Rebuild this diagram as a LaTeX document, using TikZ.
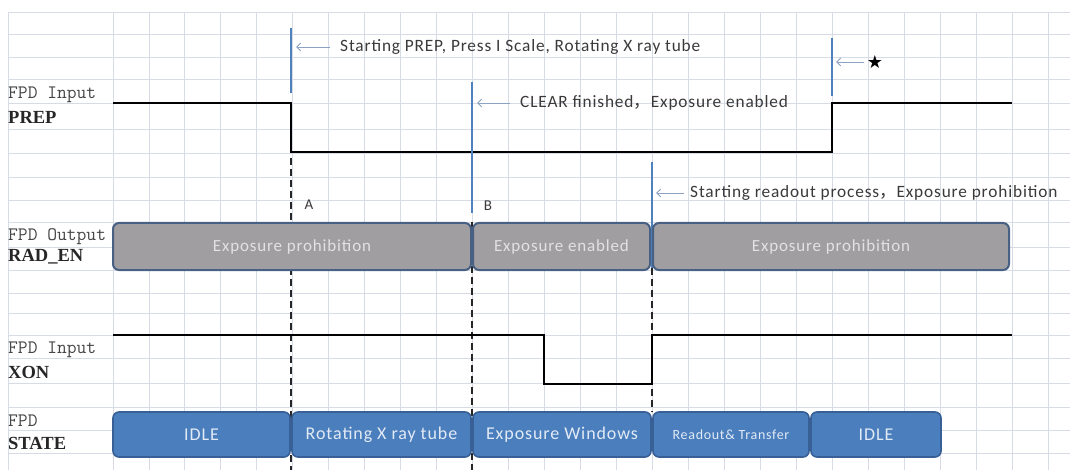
\documentclass[tikz,border=0pt]{standalone}
\usepackage{fontspec}
\setmainfont{Carlito}[LetterSpace=5.0]
\newfontfamily\namefont{Liberation Serif}
\newfontfamily\cjk{Noto Sans CJK SC}
\newfontfamily\symfont{DejaVu Sans}
\usetikzlibrary{arrows.meta}
\definecolor{gridc}{RGB}{214,219,229}
\definecolor{boxgray}{RGB}{160,158,160}
\definecolor{boxedge}{RGB}{72,96,132}
\definecolor{stateblue}{RGB}{74,126,189}
\definecolor{stateedge}{RGB}{56,96,150}
\definecolor{markblue}{RGB}{79,129,189}
\definecolor{notearrowc}{RGB}{140,162,195}
\definecolor{notetext}{RGB}{58,58,58}
\definecolor{labtext}{RGB}{70,70,70}
\definecolor{boxtext}{RGB}{226,226,226}
\definecolor{statetext}{RGB}{226,234,245}
\begin{document}
\begin{tikzpicture}[x=1pt,y=-1pt,
  gridline/.style={draw=gridc,line width=0.9pt},
  signal/.style={draw=black,line width=2.4pt,line join=miter},
  marker/.style={draw=markblue,line width=2pt},
  guide/.style={draw=black!85,line width=2pt,dash pattern=on 7pt off 4pt},
  notearrow/.style={draw=notearrowc,line width=0.9pt,-{Straight Barb[length=4pt,width=8pt]}},
  note/.style={text=notetext,font=\fontsize{17.3}{19}\selectfont,inner sep=0pt,anchor=west},
  tag/.style={text=notetext,font=\fontsize{15}{17}\selectfont,inner sep=0pt},
  lab/.style={text=labtext,font=\ttfamily\fontsize{19}{21}\selectfont,inner sep=0pt,anchor=west},
  signame/.style={text=black!85,font=\namefont\bfseries\fontsize{18.5}{20}\selectfont,inner sep=0pt,anchor=west},
  radbox/.style={draw=boxedge,fill=boxgray,line width=2pt,rounded corners=6pt,
    text=boxtext,font=\fontsize{17}{19}\selectfont,minimum height=47pt,inner sep=0pt},
  statebox/.style={draw=stateedge,fill=stateblue,line width=1.6pt,rounded corners=6pt,
    text=statetext,font=\fontsize{18}{20}\selectfont,minimum height=45pt,inner sep=0pt}
]
\useasboundingbox (0,0) rectangle (1070,470);
\fill[white] (0,0) rectangle (1070,470);

% background grid
\foreach \gy in {12,34,57,79,103,129,153,177,200,222,247,270,293,313,335,358,383,407,430,453}
  \draw[gridline] (8,\gy) -- (1070,\gy);
\draw[gridline] (8,12) -- (8,470);
\foreach \k in {0,...,26}
  \draw[gridline] ({113+35.96*\k},12) -- ({113+35.96*\k},470);

% row labels
\node[lab] (lprep) at (8,95) {FPD Input};
\node[signame] (nprep) at (8,117) {PREP};
\node[lab] (lrad) at (8,237) {FPD Output};
\node[signame] (nrad) at (8,257) {RAD\_EN};
\node[lab] (lxon) at (8,350) {FPD Input};
\node[signame] (nxon) at (8,372) {XON};
\node[lab] (lstate) at (8,421) {FPD};
\node[signame] (nstate) at (8,443) {STATE};

% dashed time guides
\coordinate (g1t) at (291,158); \coordinate (g1b) at (291,470);
\coordinate (g2t) at (472,222); \coordinate (g2b) at (472,470);
\coordinate (g3t) at (652,268); \coordinate (g3b) at (652,412);
\draw[guide] (g1t) -- (g1b);
\draw[guide] (g2t) -- (g2b);
\draw[guide] (g3t) -- (g3b);

% PREP waveform
\coordinate (p0) at (113,103); \coordinate (p1) at (291,103);
\coordinate (p2) at (291,152); \coordinate (p3) at (832,152);
\coordinate (p4) at (832,103); \coordinate (p5) at (1012,103);
\draw[signal] (p0) -- (p1) -- (p2) -- (p3) -- (p4) -- (p5);

% XON waveform
\coordinate (x0) at (113,335); \coordinate (x1) at (544,335);
\coordinate (x2) at (544,384); \coordinate (x3) at (652,384);
\coordinate (x4) at (652,335); \coordinate (x5) at (1012,335);
\draw[signal] (x0) -- (x1) -- (x2) -- (x3) -- (x4) -- (x5);

% event markers
\coordinate (m1t) at (291,28);  \coordinate (m1b) at (291,93);
\coordinate (m2t) at (472,82);  \coordinate (m2b) at (472,213);
\coordinate (m3t) at (652,162); \coordinate (m3b) at (652,268);
\coordinate (m4t) at (832,38);  \coordinate (m4b) at (832,96);
\draw[marker] (m1t) -- (m1b);
\draw[marker] (m2t) -- (m2b);
\draw[marker] (m3t) -- (m3b);
\draw[marker] (m4t) -- (m4b);

% RAD_EN phases
\node[radbox,minimum width=358pt] (rad1) at (292,246.5) {Exposure prohibition};
\node[radbox,minimum width=177pt] (rad2) at (561.5,246.5) {Exposure enabled};
\node[radbox,minimum width=356pt] (rad3) at (831,246.5) {Exposure prohibition};

% detector states
\node[statebox,minimum width=177pt] (st1) at (201.5,434.5) {IDLE};
\node[statebox,minimum width=179pt] (st2) at (381.5,434.5) {Rotating X ray tube};
\node[statebox,minimum width=178pt] (st3) at (562,434.5) {Exposure Windows};
\node[statebox,minimum width=156pt,font=\fontsize{14}{16}\selectfont] (st4) at (731,434.5) {Readout\& Transfer};
\node[statebox,minimum width=130pt] (st5) at (876,434.5) {IDLE};

% annotations
\node[note] (n1) at (340,47) {Starting PREP, Press I Scale, Rotating X ray tube};
\coordinate (a1) at (296,47);
\draw[notearrow] ([xshift=-10pt]n1.west) -- (a1);

\node[note] (n2) at (520,103) {CLEAR finished{\cjk ，}Exposure enabled};
\coordinate (a2) at (477,103);
\draw[notearrow] ([xshift=-10pt]n2.west) -- (a2);

\node[note] (n3) at (690,193) {Starting readout process{\cjk ，}Exposure prohibition};
\coordinate (a3) at (656,193);
\draw[notearrow] ([xshift=-6pt]n3.west) -- (a3);

\node[inner sep=0pt,font=\symfont\fontsize{18}{20}\selectfont] (star) at (875,62) {★};
\coordinate (a4) at (836,62);
\draw[notearrow] ([xshift=-3pt]star.west) -- (a4);

\node[tag] (ta) at (309,205) {A};
\node[tag] (tb) at (488,206) {B};
\end{tikzpicture}
\end{document}
